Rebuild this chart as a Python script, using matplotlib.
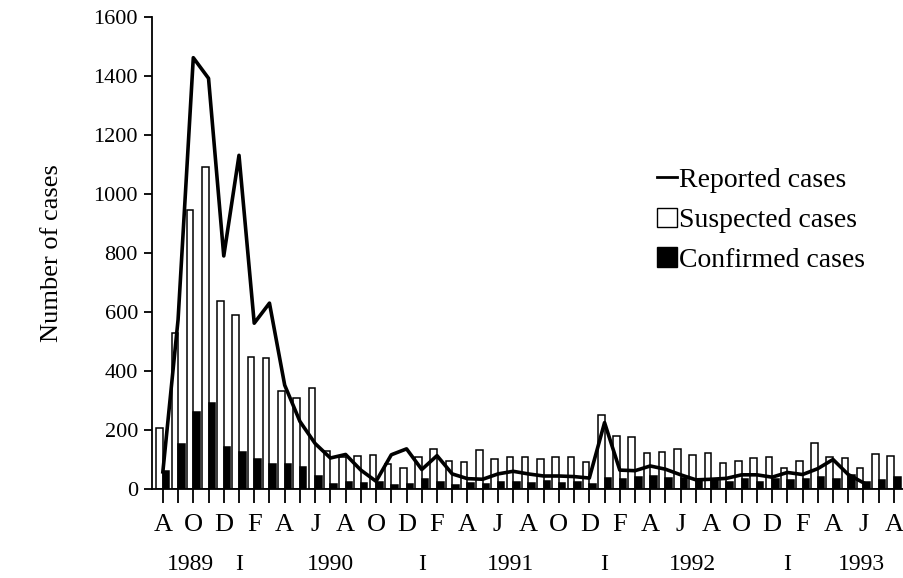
import numpy as np
from matplotlib import pyplot as plt
from matplotlib.lines import Line2D
from matplotlib.patches import Patch

plt.rcParams['font.family'] = ['Liberation Serif', 'DejaVu Serif']

# monthly data, Aug 1989 .. Aug 1993
month_letters = ['A', 'S', 'O', 'N', 'D', 'J', 'F', 'M', 'A', 'M', 'J', 'J'] * 5
month_letters = month_letters[:49]

suspected = [208, 530, 948, 1091, 639, 591, 449, 446, 334, 310, 342, 130,
             109, 114, 117, 84, 71, 109, 136, 97, 94, 133, 102,
             109, 111, 102, 111, 111, 94, 251, 181, 176, 124, 128, 136,
             115, 122, 88, 97, 107, 109, 71, 97, 156, 111, 105, 73, 119, 113]
confirmed = [61, 152, 263, 293, 144, 126, 104, 87, 84, 76, 44, 19,
             26, 20, 25, 15, 17, 34, 23, 15, 20, 18, 26,
             26, 20, 28, 22, 26, 18, 38, 36, 42, 45, 37, 37,
             34, 31, 26, 34, 26, 34, 31, 34, 42, 35, 50, 26, 31, 42]
reported = [59, 575, 1463, 1393, 791, 1132, 563, 631, 353, 230, 155, 106,
            118, 65, 27, 117, 137, 67, 114, 52, 36, 34, 52,
            61, 52, 45, 45, 43, 38, 226, 65, 63, 79, 68, 49,
            32, 34, 37, 49, 49, 41, 57, 50, 70, 101, 50, 22, np.nan, np.nan]

year_labels = ['1989', 'I', '1990', 'I', '1991', 'I', '1992', 'I', '1993']
year_label_pos = [1.8, 5, 11, 17, 22.8, 29, 34.8, 41, 45.9]

x = np.arange(len(suspected))
bw = 0.43

fig = plt.figure(figsize=(9.04, 5.78), dpi=100)
ax = fig.add_axes([0.168, 0.1535, 0.831, 0.8166])

ax.bar(x - bw / 2, suspected, width=bw, color='white', edgecolor='black', linewidth=1.1, zorder=2)
ax.bar(x + bw / 2, confirmed, width=bw, color='black', edgecolor='black', linewidth=1.1, zorder=2)
ax.plot(x, reported, color='black', linewidth=2.6, zorder=3)

ax.set_xlim(-0.72, 48.6)
ax.set_ylim(0, 1600)
ax.set_yticks(range(0, 1601, 200))
ax.set_xticks(x)
ax.set_xticklabels([m if i % 2 == 0 else '' for i, m in enumerate(month_letters)], fontsize=19)
ax.tick_params(axis='x', length=10, width=1.3, pad=8)
ax.tick_params(axis='y', length=6, width=1.3, labelsize=16, pad=4)
ax.spines['right'].set_visible(False)
ax.spines['top'].set_visible(False)
ax.spines['left'].set_linewidth(1.3)
ax.spines['bottom'].set_linewidth(1.3)

ax.set_ylabel('Number of cases', fontsize=19, labelpad=22)

for lab, pos in zip(year_labels, year_label_pos):
    ax.text(pos, -0.16, lab, transform=ax.get_xaxis_transform(), ha='center', va='center', fontsize=17)

handles = [Line2D([], [], color='black', linewidth=2),
           Patch(facecolor='white', edgecolor='black', linewidth=1),
           Patch(facecolor='black', edgecolor='black', linewidth=1)]
ax.legend(handles, ['Reported cases', 'Suspected cases', 'Confirmed cases'],
          loc='upper left', bbox_to_anchor=(0.727, 0.71), bbox_transform=fig.transFigure,
          frameon=False, fontsize=20, handlelength=0.7, handleheight=0.7,
          handletextpad=0.1, labelspacing=0.52, borderpad=0, borderaxespad=0)

fig.savefig('out.png', dpi=100)
